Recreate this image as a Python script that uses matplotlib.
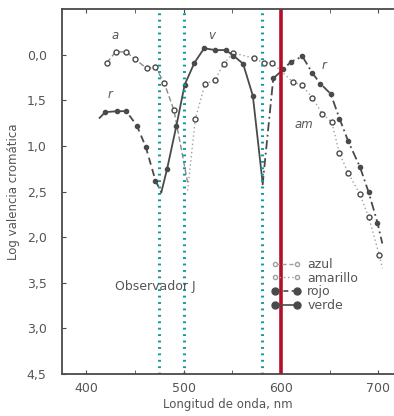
import matplotlib
matplotlib.use("Agg")
import matplotlib.pyplot as plt
from matplotlib.lines import Line2D
import numpy as np

# ---- data (wavelength nm, log chromatic valence; axis inverted) ----
azul_x = [421, 430, 441, 450, 462, 471, 480, 490, 504]
azul_y = [0.09, -0.03, -0.03, 0.05, 0.15, 0.14, 0.31, 0.61, 1.40]
azul_mk = [421, 430, 441, 450, 462, 471, 480, 490]

rojo1_x = [413, 419.5, 432, 441, 452, 461, 471, 477]
rojo1_y = [0.70, 0.63, 0.62, 0.62, 0.78, 1.01, 1.38, 1.51]
rojo1_mk = [419.5, 432, 441, 452, 461, 471]

verde_x = [477, 483, 492.5, 501, 511, 521, 532, 543, 551, 561, 571, 581]
verde_y = [1.51, 1.25, 0.78, 0.33, 0.09, -0.07, -0.05, -0.05, 0.01, 0.10, 0.45, 1.40]
verde_mk = [483, 492.5, 501, 511, 521, 532, 543, 551, 561, 571]

amar_x = [504, 512, 522, 532, 541, 551, 572, 582, 591, 612, 621, 632, 642.5, 652, 660, 669, 681, 690, 701, 704]
amar_y = [1.49, 0.70, 0.32, 0.28, 0.10, -0.02, 0.04, 0.09, 0.09, 0.30, 0.33, 0.47, 0.65, 0.74, 1.08, 1.30, 1.53, 1.78, 2.20, 2.34]
amar_mk = [512, 522, 532, 541, 551, 572, 582, 591, 612, 621, 632, 642.5, 652, 660, 669, 681, 690, 701]

rojo2_x = [581, 592, 602.5, 610, 622, 632, 640.5, 651, 660, 669, 681, 690, 699, 704]
rojo2_y = [1.43, 0.26, 0.16, 0.08, 0.02, 0.20, 0.32, 0.43, 0.70, 0.95, 1.23, 1.51, 1.84, 2.07]
rojo2_mk = [592, 602.5, 610, 622, 632, 640.5, 651, 660, 669, 681, 690, 699]

teal_lines = [475, 500, 580]
red_line = 600

ytick_vals = [0, 0.5, 1.0, 1.5, 2.0, 2.5, 3.0, 3.5]
ytick_labels = ['0,0', '1,5', '1,0', '2,5', '2,0', '3,5', '3,0', '4,5']
xtick_major = [400, 500, 600, 700]
xtick_minor = [450, 550, 650]

legend_labels = ['azul', 'amarillo', 'rojo', 'verde']

# ---- figure ----
fig = plt.figure(figsize=(3.94, 4.16), dpi=100)
ax = fig.add_axes([62/394, 1-374/416, 1-62/394, (374-9)/416])

dark = '#4a4a4a'
light = '#8a8a8a'
lighter = '#a0a0a0'
txt = '#555555'

def on_curve(xs, ys, xm):
    return list(np.interp(xm, xs, ys))

# azul: dashed + open circles
ax.plot(azul_x, azul_y, ls=(0, (4, 2)), color=light, lw=1.0)
ax.plot(azul_mk, on_curve(azul_x, azul_y, azul_mk), 'o', ms=3.6, mfc='white', mec=dark, mew=1.0, ls='none')
# amarillo: dotted + open circles
ax.plot(amar_x, amar_y, ls=(0, (1, 2)), color=lighter, lw=1.0)
ax.plot(amar_mk, on_curve(amar_x, amar_y, amar_mk), 'o', ms=3.6, mfc='white', mec=dark, mew=1.0, ls='none')
# rojo: dashed + filled circles
ax.plot(rojo1_x, rojo1_y, ls=(0, (4, 2.5)), color=dark, lw=1.3)
ax.plot(rojo1_mk, on_curve(rojo1_x, rojo1_y, rojo1_mk), 'o', ms=3.0, color=dark, ls='none')
ax.plot(rojo2_x, rojo2_y, ls=(0, (5, 2, 1, 2)), color=dark, lw=1.3)
ax.plot(rojo2_mk, on_curve(rojo2_x, rojo2_y, rojo2_mk), 'o', ms=3.0, color=dark, ls='none')
# verde: solid + filled circles
ax.plot(verde_x, verde_y, ls='-', color=dark, lw=1.3)
ax.plot(verde_mk, on_curve(verde_x, verde_y, verde_mk), 'o', ms=3.0, color=dark, ls='none')

# overlay lines
for xv in teal_lines:
    ax.axvline(xv, color='#129a9a', lw=2.2, ls=(0, (0.6, 1.5)), dash_capstyle='butt')
ax.axvline(red_line, color='#b01028', lw=2.6)

# curve labels
ax.text(430, -0.17, 'a', style='italic', color=txt, fontsize=8.5, ha='center')
ax.text(424, 0.48, 'r', style='italic', color=txt, fontsize=8.5, ha='center')
ax.text(529, -0.17, 'v', style='italic', color=txt, fontsize=8.5, ha='center')
ax.text(644, 0.16, 'r', style='italic', color=txt, fontsize=8.5, ha='center')
ax.text(623, 0.80, 'am', style='italic', color=txt, fontsize=8.5, ha='center')
ax.text(471, 2.58, 'Observador J', color=txt, fontsize=9, ha='center')

# legend
handles = [
    Line2D([], [], ls=(0, (3, 2)), color=lighter, lw=1.0, marker='o', ms=3, mfc='white', mec=lighter),
    Line2D([], [], ls=(0, (1, 2)), color=lighter, lw=1.0, marker='o', ms=3, mfc='white', mec=lighter),
    Line2D([], [], ls=(0, (3, 2)), color=dark, lw=1.2, marker='o', ms=5),
    Line2D([], [], ls='-', color=dark, lw=1.2, marker='o', ms=5),
]
leg = ax.legend(handles, legend_labels, loc='upper left', bbox_to_anchor=((266-62)/332, 1-(253-9)/365),
                frameon=False, fontsize=9, numpoints=2, handlelength=2.4, handletextpad=0.5,
                labelspacing=0.05, borderaxespad=0)
for t in leg.get_texts():
    t.set_color(txt)

# axes styling
ax.set_xlim(375, 716)
ax.set_ylim(3.5, -0.5)
ax.set_xticks(xtick_major)
ax.set_xticks(xtick_minor, minor=True)
ax.set_yticks(ytick_vals)
ax.set_yticklabels(ytick_labels)
ax.tick_params(axis='both', which='both', direction='in', colors=dark, labelcolor=txt, labelsize=9)
ax.tick_params(axis='x', which='both', top=True, length=3, pad=6)
ax.tick_params(axis='y', length=3, pad=11)
ax.spines['right'].set_visible(False)
for s in ['left', 'bottom', 'top']:
    ax.spines[s].set_color(dark)
    ax.spines[s].set_linewidth(1.3)

ax.set_xlabel('Longitud de onda, nm', color=txt, fontsize=8.5, labelpad=2)
ax.set_ylabel('Log valencia cromática', color=txt, fontsize=8.5, labelpad=5)

fig.savefig('out.png', dpi=100)
